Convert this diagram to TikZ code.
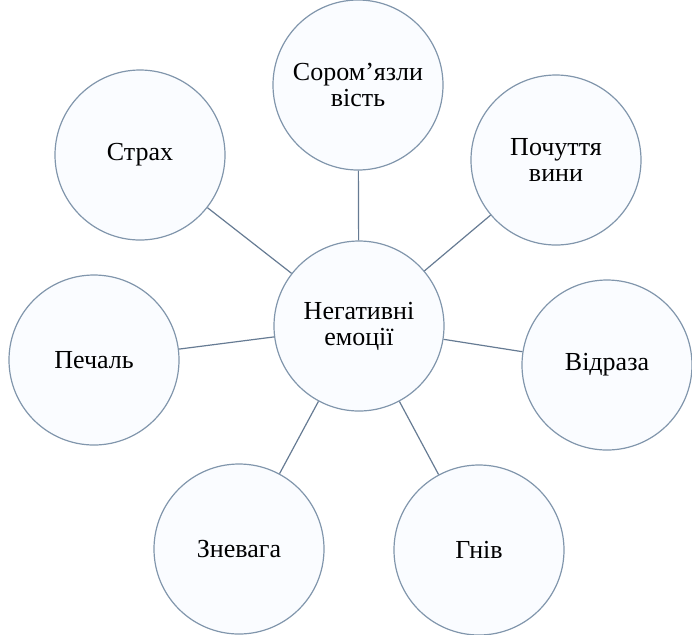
\documentclass[tikz,border=0pt]{standalone}
\usepackage{fontspec}
\setmainfont{Liberation Serif}
\usetikzlibrary{calc}
\definecolor{rim}{HTML}{8196AC}
\definecolor{spoke}{HTML}{667B93}
\definecolor{pale}{HTML}{FAFCFF}

\begin{document}
\begin{tikzpicture}[x=0.5pt, y=-0.5pt]

\tikzset{
  emo/.style={
    circle,
    draw=rim,
    line width=0.6pt,
    fill=pale,
    align=center,
    inner sep=2pt,
    minimum size=85pt,
    font=\fontsize{13}{13}\selectfont
  },
  link/.style={
    draw=spoke,
    line width=0.6pt
  }
}

\useasboundingbox (0,0) rectangle (692,634);

% Hub in the middle, seven feelings around it
\node[emo] (hub) at (359,326) {Негативні\\емоції};

\node[emo] (sorom)  at (358,85)  {Сором’язли\\вість};
\node[emo] (vyna)   at (556,160) {Почуття\\вини};
\node[emo] (vidr)   at (607,365) {Відраза};
\node[emo] (gniv)   at (479,550) {Гнів};
\node[emo] (znev)   at (239,549) {Зневага};
\node[emo] (pech)   at (94,360)  {Печаль};
\node[emo] (strakh) at (140,155) {Страх};

\foreach \n in {sorom,vyna,vidr,gniv,znev,pech,strakh} {
  \draw[link] (hub) -- (\n);
}

\end{tikzpicture}
\end{document}
